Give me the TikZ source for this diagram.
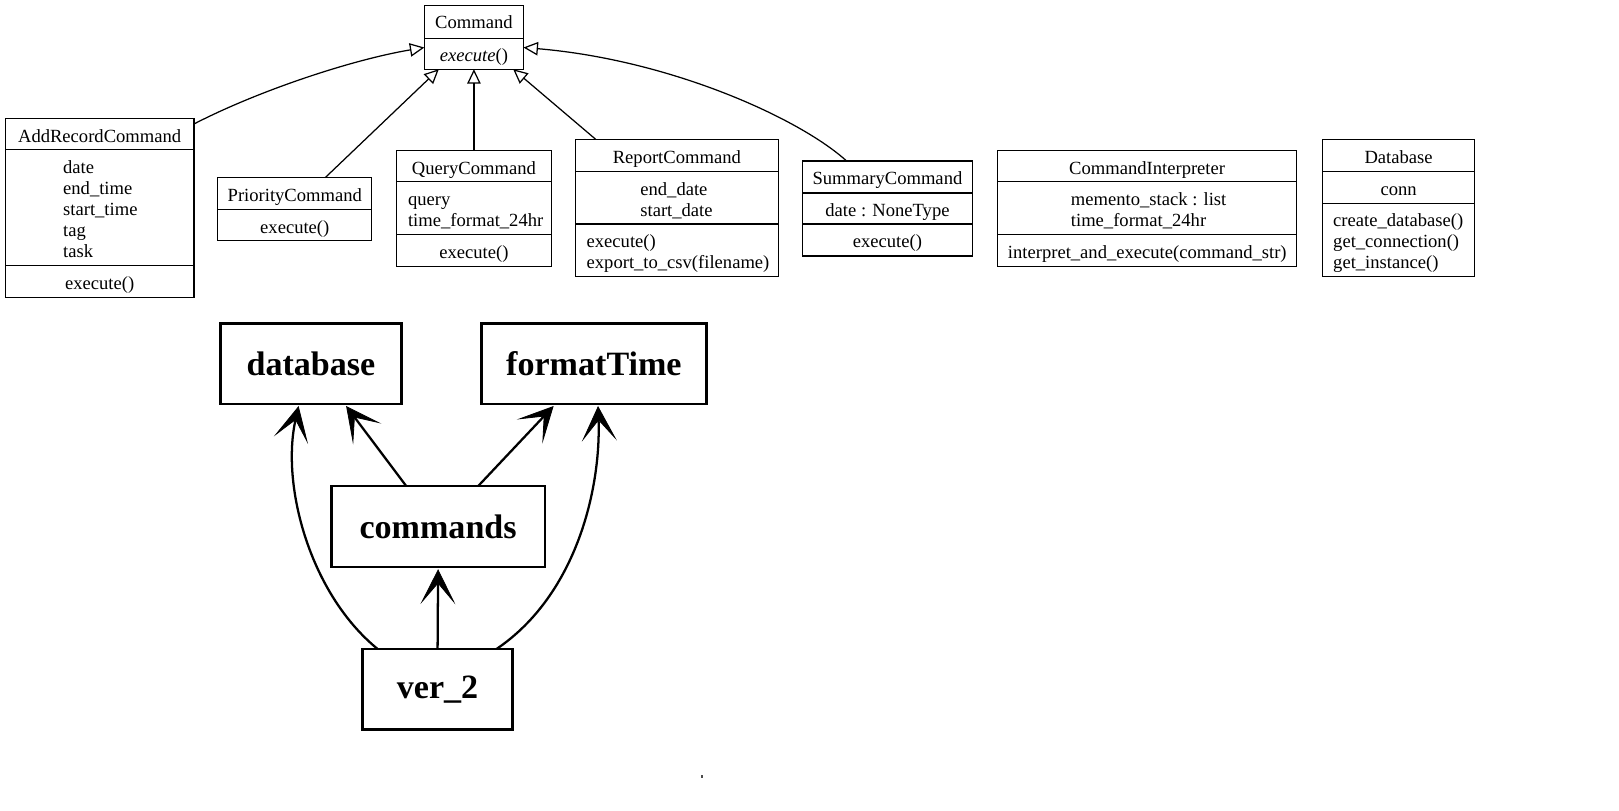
\documentclass[tikz,border=0pt]{standalone}
\usepackage{fontspec}
\setmainfont{Liberation Serif}
\usetikzlibrary{arrows.meta,calc}
\tikzset{
 cls/.style={draw, line width=1.2pt, inner sep=0pt, outer sep=0pt},
 txt/.style={inner sep=0pt, font=\fontsize{18}{20}\selectfont, anchor=base},
 txtl/.style={txt, anchor=base west},
 divl/.style={line width=1.2pt},
 inh/.style={line width=1.2pt, -{Triangle[open,length=14pt,width=13pt,line width=1.2pt]}},
 pkg/.style={draw, line width=2.5pt, inner sep=0pt, outer sep=0pt, font=\fontsize{33}{36}\selectfont\bfseries},
 dep/.style={line width=2.2pt, -{Stealth[length=34pt,width=34pt,inset=20pt,line width=0.8pt]}}
}
\begin{document}
\begin{tikzpicture}[x=1pt,y=-1pt]
\useasboundingbox (0,0) rectangle (1568,785);

% ---------- Command ----------
\node[cls, minimum width=96pt, minimum height=62pt] (cmd) at (459,36) {};
\draw[divl] (cmd.west |- 0,37) -- (cmd.east |- 0,37);
\node[txt] (cmdT) at (459,28) {Command};
\node[txt] (cmdM) at (459,60) {\textit{execute}()};

% ---------- AddRecordCommand ----------
\node[cls, minimum width=183pt, minimum height=173pt] (add) at (96.5,201.5) {};
\draw[divl] (add.west |- 0,145) -- (add.east |- 0,145);
\draw[divl] (add.west |- 0,257) -- (add.east |- 0,257);
\node[txt] (addT) at (96.5,138) {AddRecordCommand};
\node[txtl] (addA1) at (61,168) {date};
\node[txtl] (addA2) at (61,188.4) {end\_time};
\node[txtl] (addA3) at (61,208.8) {start\_time};
\node[txtl] (addA4) at (61,229.2) {tag};
\node[txtl] (addA5) at (61,249.6) {task};
\node[txt] (addM) at (96.5,280) {execute()};

% ---------- PriorityCommand ----------
\node[cls, minimum width=149pt, minimum height=61pt] (pri) at (285.5,202.5) {};
\draw[divl] (pri.west |- 0,203) -- (pri.east |- 0,203);
\node[txt] (priT) at (285.5,195) {PriorityCommand};
\node[txt] (priM) at (285.5,226) {execute()};

% ---------- QueryCommand ----------
\node[cls, minimum width=150pt, minimum height=112pt] (qry) at (459,202) {};
\draw[divl] (qry.west |- 0,176) -- (qry.east |- 0,176);
\draw[divl] (qry.west |- 0,227) -- (qry.east |- 0,227);
\node[txt] (qryT) at (459,169) {QueryCommand};
\node[txtl] (qryA1) at (395,199) {query};
\node[txtl] (qryA2) at (395,219.4) {time\_format\_24hr};
\node[txt] (qryM) at (459,250) {execute()};

% ---------- ReportCommand ----------
\node[cls, minimum width=197pt, minimum height=133pt] (rep) at (655.5,201.5) {};
\draw[divl] (rep.west |- 0,166) -- (rep.east |- 0,166);
\draw[divl] (rep.west |- 0,217) -- (rep.east |- 0,217);
\node[txt] (repT) at (655.5,158) {ReportCommand};
\node[txtl] (repA1) at (620,189) {end\_date};
\node[txtl] (repA2) at (620,209.4) {start\_date};
\node[txtl] (repM1) at (568,240) {execute()};
\node[txtl] (repM2) at (568,260.4) {export\_to\_csv(filename)};

% ---------- SummaryCommand ----------
\node[cls, minimum width=165pt, minimum height=92pt] (sum) at (859.5,202) {};
\draw[divl] (sum.west |- 0,187) -- (sum.east |- 0,187);
\draw[divl] (sum.west |- 0,217) -- (sum.east |- 0,217);
\node[txt] (sumT) at (859.5,179) {SummaryCommand};
\node[txt] (sumA) at (859.5,210) {date : NoneType};
\node[txt] (sumM) at (859.5,240) {execute()};

% ---------- CommandInterpreter ----------
\node[cls, minimum width=290pt, minimum height=112pt] (ci) at (1111,202) {};
\draw[divl] (ci.west |- 0,176) -- (ci.east |- 0,176);
\draw[divl] (ci.west |- 0,227) -- (ci.east |- 0,227);
\node[txt] (ciT) at (1111,169) {CommandInterpreter};
\node[txtl] (ciA1) at (1037,199) {memento\_stack : list};
\node[txtl] (ciA2) at (1037,219.4) {time\_format\_24hr};
\node[txtl] (ciM) at (976,250) {interpret\_and\_execute(command\_str)};

% ---------- Database ----------
\node[cls, minimum width=147pt, minimum height=133pt] (dbc) at (1354.5,201.5) {};
\draw[divl] (dbc.west |- 0,166) -- (dbc.east |- 0,166);
\draw[divl] (dbc.west |- 0,197) -- (dbc.east |- 0,197);
\node[txt] (dbcT) at (1354.5,158) {Database};
\node[txt] (dbcA) at (1354.5,189) {conn};
\node[txtl] (dbcM1) at (1291,219) {create\_database()};
\node[txtl] (dbcM2) at (1291,239.4) {get\_connection()};
\node[txtl] (dbcM3) at (1291,259.8) {get\_instance()};

% ---------- inheritance ----------
\draw[inh] ([yshift=-5pt]add.north east) .. controls (250,88) and (340,58) .. ([yshift=-10pt]cmd.west);
\draw[inh] ([xshift=29.5pt]pri.north) -- ([xshift=-34pt]cmd.south);
\draw[inh] (qry.north) -- (cmd.south);
\draw[inh] ([xshift=-78.5pt]rep.north) -- ([xshift=38pt]cmd.south);
\draw[inh] ([xshift=-39.5pt]sum.north) .. controls (775,115) and (650,58) .. ([yshift=-10pt]cmd.east);

% ---------- packages ----------
\node[pkg, minimum width=175pt, minimum height=78pt] (db) at (301.2,352.2) {database};
\node[pkg, minimum width=218pt, minimum height=78pt] (ft) at (575.2,352.2) {formatTime};
\node[pkg, minimum width=207pt, minimum height=78.7pt] (cm) at (424.3,509.9) {commands};
\node[pkg, minimum width=145.6pt, minimum height=78pt] (v) at (423.8,667.6) {ver\_2};

\draw[dep] ([xshift=-58pt]v.north) .. controls (300,575) and (272,470) .. ([xshift=-12pt,yshift=-2pt]db.south);
\draw[dep] ([xshift=-31pt]cm.north) -- ([xshift=34pt,yshift=-2pt]db.south);
\draw[dep] ([xshift=39pt]cm.north) -- ([xshift=-39pt,yshift=-2pt]ft.south);
\draw[dep] (v.north) -- ([yshift=-2pt]cm.south);
\draw[dep] ([xshift=57pt]v.north) .. controls (560,575) and (582,470) .. ([xshift=4pt,yshift=-2pt]ft.south);

\fill[black!70] (679,751) rectangle (681,753);
\end{tikzpicture}
\end{document}
